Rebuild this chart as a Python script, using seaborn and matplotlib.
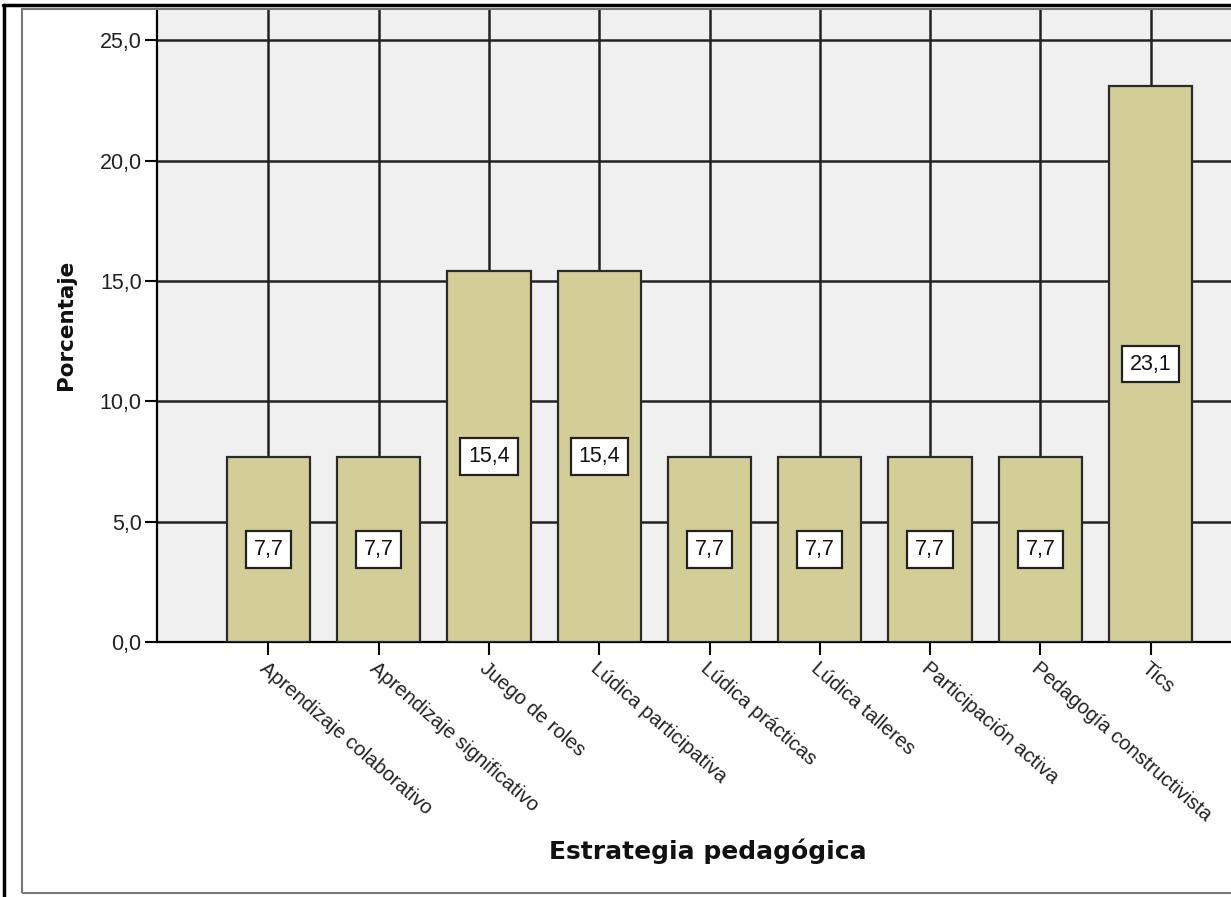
import matplotlib
matplotlib.use("Agg")
import matplotlib.pyplot as plt
import seaborn as sns
from matplotlib.ticker import FuncFormatter
from matplotlib.lines import Line2D
from matplotlib.patches import Rectangle

# data
categories = ['Aprendizaje colaborativo', 'Aprendizaje significativo', 'Juego de roles',
              'Lúdica participativa', 'Lúdica prácticas', 'Lúdica talleres',
              'Participación activa', 'Pedagogía constructivista', 'Tics']
percent = [7.7, 7.7, 15.4, 15.4, 7.7, 7.7, 7.7, 7.7, 23.1]
y_ticks = [0, 5, 10, 15, 20, 25]


def comma(v, pos=None):
    return f'{v:.1f}'.replace('.', ',')


def create_plot():
    sns.set_style('whitegrid', {'axes.facecolor': '#F0F0F0',
                                'grid.color': '#222222',
                                'axes.edgecolor': 'black'})
    W, H = 1231, 897
    fig = plt.figure(figsize=(W / 100, H / 100), dpi=100)
    fig.patch.set_facecolor('white')

    # axes placed in pixel terms, right side runs past the picture edge
    ax = fig.add_axes([157 / W, (H - 642) / H, (1262 - 157) / W, (642 - 9) / H])

    sns.barplot(x=categories, y=percent, color='#D3CE97', edgecolor='#2a2a2a',
                linewidth=1.6, width=0.755, saturation=1, ax=ax, zorder=3)

    ax.set_xlim(-1.01, 9.01)
    ax.set_ylim(0, 26.3)
    ax.set_yticks(y_ticks)
    ax.yaxis.set_major_formatter(FuncFormatter(comma))
    ax.set_axisbelow(True)
    ax.grid(True, axis='both', color='#222222', lw=1.8)

    for s in ['top', 'right']:
        ax.spines[s].set_visible(False)
    for s in ['left', 'bottom']:
        ax.spines[s].set_color('black')
        ax.spines[s].set_linewidth(1.6)

    ax.tick_params(axis='both', direction='out', length=9, width=1.5,
                   color='black', left=True, bottom=True)
    ax.tick_params(axis='y', labelsize=15.5, pad=2)
    for t in ax.get_yticklabels():
        t.set_family('Liberation Sans')
        t.set_color('#222222')

    ax.set_xticks(range(len(categories)))
    ax.set_xticklabels(categories, rotation=-41, ha='left', va='top',
                       rotation_mode='anchor', fontsize=14.5,
                       family='Liberation Sans', color='#222222')
    ax.tick_params(axis='x', pad=3)

    # value labels in boxes at bar centre
    ax.bar_label(ax.containers[0], labels=[comma(v) for v in percent],
                 label_type='center', fontsize=15.5, family='Liberation Sans',
                 color='#111111', zorder=5,
                 bbox=dict(boxstyle='square,pad=0.36', fc='white',
                           ec='#222222', lw=1.6))

    ax.set_xlabel('Estrategia pedagógica', fontsize=18, fontweight='bold',
                  family='DejaVu Sans', color='#111111')
    ax.xaxis.set_label_coords((708 - 157) / (1262 - 157), -(838 - 642) / (642 - 9))
    ax.set_ylabel('Porcentaje', fontsize=15.5, fontweight='bold',
                  family='DejaVu Sans', color='#111111')
    ax.yaxis.set_label_coords(-(157 - 76) / (1262 - 157), (642 - 325) / (642 - 9))

    # chart frame and outer border
    fig.patches.append(Rectangle((22 / W, (H - 893) / H), 1.2, (893 - 9) / H,
                                 transform=fig.transFigure, fill=False,
                                 ec='#777777', lw=1.5, zorder=10))
    fig.lines.append(Line2D([3.5 / W, 3.5 / W], [0, (H - 5) / H],
                            transform=fig.transFigure, color='black', lw=2.5))
    fig.lines.append(Line2D([3 / W, 1], [(H - 5) / H, (H - 5) / H],
                            transform=fig.transFigure, color='black', lw=2.5))

    fig.savefig('out.png', dpi=100)


if __name__ == "__main__":
    create_plot()
